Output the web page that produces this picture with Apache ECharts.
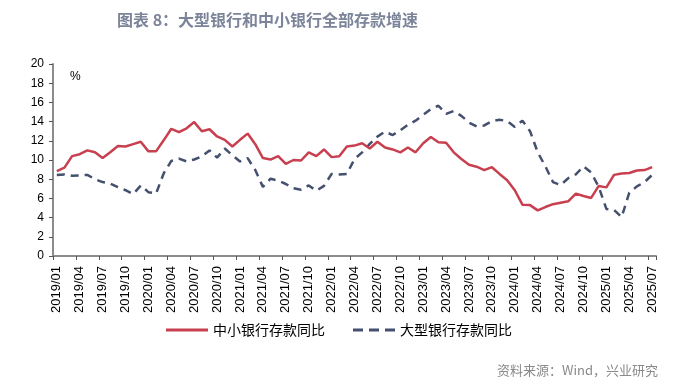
<!DOCTYPE html>
<html>
<head>
<meta charset="utf-8">
<script src="https://cdn.jsdelivr.net/npm/echarts@6/dist/echarts.min.js"></script>
<style>
html,body{margin:0;padding:0;background:#fff;}
#main{width:697px;height:384px;}
</style>
</head>
<body>
<div id="main"></div>
<script>
// Months 2019/01 .. 2025/07
var startYear = 2019, endYear = 2025, endMonth = 7;
var categories = [];
for (var y = startYear; y <= endYear; y++) {
  for (var m = 1; m <= 12; m++) {
    if (y === endYear && m > endMonth) break;
    categories.push(y + '/' + (m < 10 ? '0' + m : m));
  }
}

// 中小银行存款同比 (%)
var smallBankVals = [
  8.85, 9.2, 10.4, 10.6, 11.0, 10.8, 10.2, 10.8, 11.45, 11.4, 11.65, 11.9,
  10.9, 10.9, 12.05, 13.25, 12.9, 13.3, 13.95, 13.0, 13.2, 12.45, 12.1, 11.4,
  12.1, 12.75, 11.65, 10.2, 10.05, 10.4, 9.6, 10.0, 9.95, 10.8, 10.4, 11.1,
  10.3, 10.4, 11.4, 11.5, 11.75, 11.2, 11.9, 11.3, 11.1, 10.8, 11.3, 10.8,
  11.75, 12.4, 11.85, 11.8, 10.8, 10.1, 9.5, 9.3, 8.95, 9.25, 8.55, 7.9,
  6.85, 5.35, 5.3, 4.75, 5.1, 5.4, 5.55, 5.7, 6.5, 6.25, 6.05, 7.3,
  7.15, 8.45, 8.6, 8.65, 8.9, 8.95, 9.25
];

// 大型银行存款同比 (%)
var largeBankVals = [
  8.45, 8.5, 8.35, 8.4, 8.45, 8.0, 7.7, 7.55, 7.18, 6.85, 6.45, 7.35,
  6.65, 6.5, 8.6, 9.9, 10.15, 9.85, 10.05, 10.38, 11.0, 10.25, 11.2, 10.5,
  9.85, 10.2, 8.95, 7.2, 8.05, 7.85, 7.5, 7.05, 6.9, 7.35, 6.8, 7.3,
  8.55, 8.5, 8.55, 10.1, 10.8, 11.67, 12.44, 12.95, 12.6, 13.1, 13.66, 14.1,
  14.7, 15.3, 15.65, 14.8, 15.1, 14.6, 13.9, 13.5, 13.6, 14.05, 14.2, 14.05,
  13.45, 14.1, 13.0, 10.8, 9.35, 7.7, 7.4, 8.1, 8.5, 9.35, 8.7, 7.2,
  4.9, 4.8, 4.05, 6.6, 7.25, 7.7, 8.45
];

var yTicks = [0, 2, 4, 6, 8, 10, 12, 14, 16, 18, 20];

var redColor = '#c8404f';
var navyColor = '#44506e';
var axisColor = '#8c8c8c';

var chart = echarts.init(document.getElementById('main'), null, {renderer: 'canvas'});
chart.setOption({
  backgroundColor: '#ffffff',
  animation: false,
  title: {
    text: '图表 8：大型银行和中小银行全部存款增速',
    left: 112,
    top: 7,
    textStyle: {
      fontFamily: 'Noto Sans CJK SC',
      fontSize: 16,
      fontWeight: 'bold',
      color: '#7b8499'
    }
  },
  graphic: [
    {
      type: 'text',
      left: 70,
      top: 71,
      style: {text: '%', font: '12px "Liberation Sans"', fill: '#000'}
    },
    {
      type: 'text',
      right: 39,
      top: 364,
      style: {text: '资料来源：Wind，兴业研究', font: '13px "Noto Sans CJK SC"', fill: '#8a8a8a'}
    }
  ],
  legend: {
    left: 161,
    top: 318,
    itemWidth: 42,
    itemHeight: 3,
    itemGap: 28,
    data: [
      {name: '中小银行存款同比', icon: 'path://M0,0H42V3H0Z'},
      {name: '大型银行存款同比', icon: 'path://M0,0H10V3H0Z M16,0H26V3H16Z M32,0H42V3H32Z'}
    ],
    textStyle: {fontFamily: 'Noto Sans CJK SC', fontSize: 14, color: '#000'}
  },
  grid: {
    left: 53,
    top: 64,
    right: 41,
    bottom: 128,
    containLabel: false
  },
  xAxis: {
    type: 'category',
    data: categories,
    boundaryGap: true,
    axisLine: {lineStyle: {color: axisColor, width: 2}},
    axisTick: {show: true, interval: 2, length: 4, lineStyle: {color: '#555', width: 1}},
    axisLabel: {
      interval: 2,
      rotate: 90,
      margin: 10,
      fontFamily: 'Liberation Sans',
      fontSize: 13,
      color: '#000'
    },
    splitLine: {show: false}
  },
  yAxis: {
    type: 'value',
    min: yTicks[0],
    max: yTicks[yTicks.length - 1],
    interval: 2,
    axisLine: {show: true, lineStyle: {color: axisColor, width: 2}},
    axisTick: {show: true, length: 4, lineStyle: {color: '#555', width: 1}},
    axisLabel: {
      margin: 9,
      fontFamily: 'Liberation Sans',
      fontSize: 12,
      color: '#000'
    },
    splitLine: {show: false}
  },
  series: [
    {
      name: '中小银行存款同比',
      type: 'line',
      data: smallBankVals,
      symbol: 'none',
      smooth: false,
      color: redColor,
      lineStyle: {color: redColor, width: 2.5},
      z: 3
    },
    {
      name: '大型银行存款同比',
      type: 'line',
      data: largeBankVals,
      symbol: 'none',
      smooth: false,
      color: navyColor,
      lineStyle: {color: navyColor, width: 2.5, type: [8, 6]},
      z: 2
    }
  ]
});
</script>
</body>
</html>
